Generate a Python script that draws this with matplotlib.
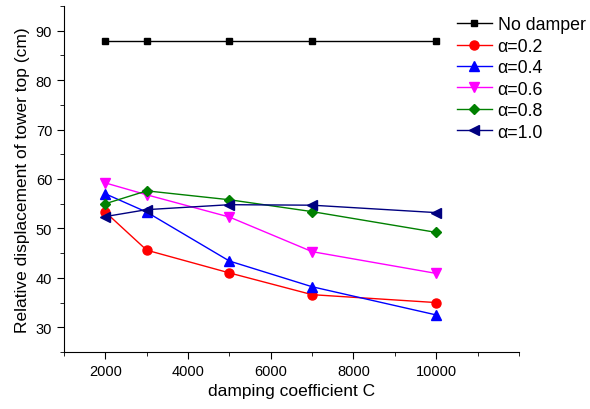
import matplotlib
matplotlib.use('Agg')
import matplotlib.pyplot as plt
from matplotlib.ticker import MultipleLocator

plt.rcParams['font.family'] = ['Liberation Sans', 'DejaVu Sans']

# damping coefficient C
damping = [2000, 3000, 5000, 7000, 10000]

# relative displacement of tower top (cm)
no_damper = [88.0, 88.0, 88.0, 88.0, 88.0]
alpha_02 = [53.3, 45.6, 41.0, 36.6, 35.0]
alpha_04 = [57.0, 53.3, 43.4, 38.2, 32.5]
alpha_06 = [59.2, 56.8, 52.3, 45.3, 40.9]
alpha_08 = [55.0, 57.6, 55.8, 53.4, 49.2]
alpha_10 = [52.4, 53.8, 54.8, 54.7, 53.2]

series = [
    ('No damper', no_damper, 'black', 's'),
    ('α=0.2', alpha_02, 'red', 'o'),
    ('α=0.4', alpha_04, 'blue', '^'),
    ('α=0.6', alpha_06, 'magenta', 'v'),
    ('α=0.8', alpha_08, 'green', 'D'),
    ('α=1.0', alpha_10, 'navy', '<'),
]
sizes = {'s': 5, 'o': 6.5, '^': 6.5, 'v': 6.5, 'D': 5.5, '<': 6.5}

fig = plt.figure(figsize=(5.9, 4.1), dpi=100)
ax = fig.add_axes([0.1085, 0.139, 0.771, 0.844])

for label, vals, color, marker in series:
    ax.plot(damping, vals, color=color, marker=marker, markersize=sizes[marker],
            linewidth=1, label=label)

ax.set_xlim(1000, 12000)
ax.set_ylim(25, 95)
ax.xaxis.set_major_locator(MultipleLocator(2000))
ax.xaxis.set_minor_locator(MultipleLocator(1000))
ax.yaxis.set_major_locator(MultipleLocator(10))
ax.yaxis.set_minor_locator(MultipleLocator(5))
ax.set_xticks([2000, 4000, 6000, 8000, 10000])
ax.tick_params(which='major', length=5, labelsize=10.5, direction='out')
ax.tick_params(which='minor', length=3, direction='out')
ax.spines['top'].set_visible(False)
ax.spines['right'].set_visible(False)

ax.set_xlabel('damping coefficient C', fontsize=12.5)
ax.set_ylabel('Relative displacement of tower top (cm)', fontsize=12.5)

fig.legend(loc='upper left', bbox_to_anchor=(0.762, 0.975), frameon=False,
           fontsize=12.8, handlelength=2.0, labelspacing=0.25,
           handletextpad=0.3, borderaxespad=0)

fig.savefig('out.png', dpi=100)
